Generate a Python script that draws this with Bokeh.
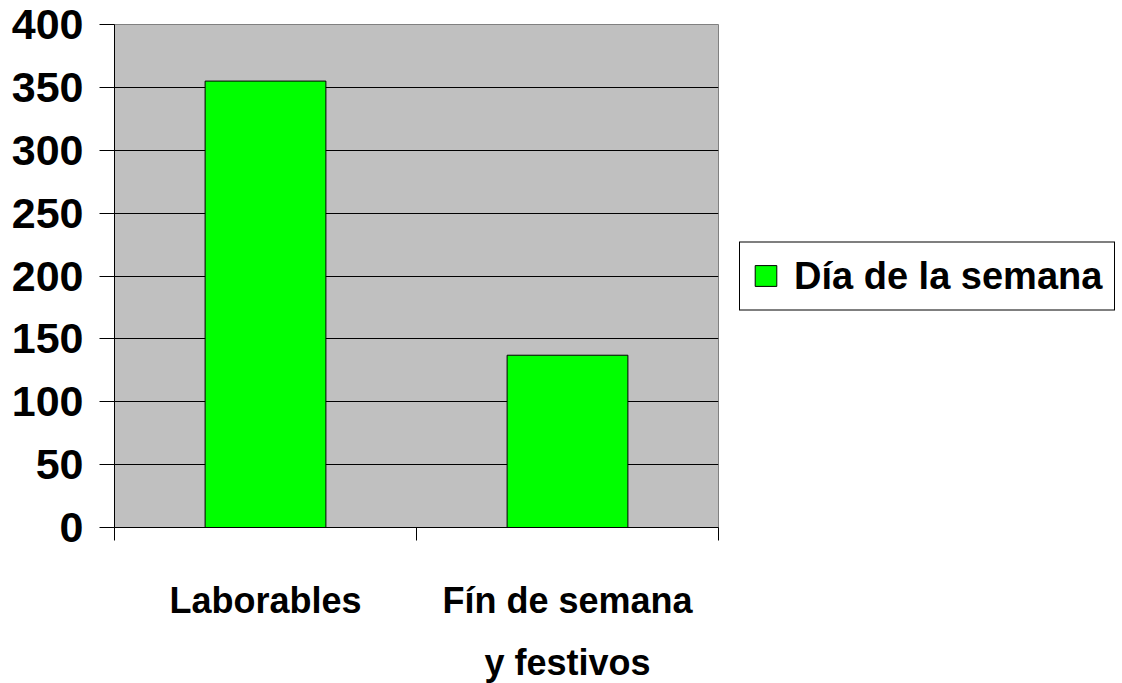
from bokeh.plotting import figure
from bokeh.models import Range1d, FixedTicker, Legend, LegendItem, ColumnDataSource
from bokeh.embed import file_html
from bokeh.resources import INLINE

categories = ["Laborables", "Fín de semana\ny festivos"]
values = [355, 137]
series_name = "Día de la semana"
y_ticks = [0, 50, 100, 150, 200, 250, 300, 350, 400]

FONT = "Liberation Sans"

p = figure(frame_width=604, frame_height=503, output_backend="svg", toolbar_location=None,
           x_range=Range1d(0, len(categories)), y_range=Range1d(0, 400),
           min_border_left=114, min_border_right=0, min_border_top=24, min_border_bottom=0)

p.background_fill_color = "#C0C0C0"
p.border_fill_color = "white"
p.outline_line_color = "#808080"
p.outline_line_width = 1

xs = [i + 0.5 for i in range(len(categories))]
src = ColumnDataSource(dict(x=xs, top=values))
r = p.vbar(x="x", top="top", bottom=0, width=0.4, source=src,
           fill_color="#00FF00", line_color="black", line_width=1)

# grid
p.xgrid.visible = False
p.ygrid.ticker = FixedTicker(ticks=y_ticks)
p.ygrid.grid_line_color = "black"
p.ygrid.grid_line_width = 1

# y axis
ya = p.yaxis[0]
ya.ticker = FixedTicker(ticks=y_ticks)
ya.axis_line_color = "black"
ya.major_tick_line_color = "black"
ya.major_tick_out = 15
ya.major_tick_in = 0
ya.minor_tick_line_color = None
ya.major_label_text_font = FONT
ya.major_label_text_font_style = "bold"
ya.major_label_text_font_size = "43px"
ya.major_label_text_color = "black"
ya.major_label_standoff = 16

# x axis
xa = p.xaxis[0]
xa.ticker = FixedTicker(ticks=xs, minor_ticks=list(range(len(categories) + 1)))
xa.major_label_overrides = {x: c for x, c in zip(xs, categories)}
xa.axis_line_color = "black"
xa.major_tick_out = 0
xa.major_tick_in = 0
xa.minor_tick_out = 13
xa.minor_tick_in = 0
xa.minor_tick_line_color = "black"
xa.major_label_text_font = FONT
xa.major_label_text_font_style = "bold"
xa.major_label_text_font_size = "36px"
xa.major_label_text_color = "black"
xa.major_label_text_line_height = 1.52
xa.major_label_standoff = 39

legend = Legend(items=[LegendItem(label=series_name, renderers=[r])],
                location="left", orientation="vertical")
legend.border_line_color = "black"
legend.border_line_width = 1
legend.border_line_alpha = 1
legend.background_fill_color = "white"
legend.background_fill_alpha = 1
legend.label_text_font = FONT
legend.label_text_font_style = "bold"
legend.label_text_font_size = "38px"
legend.label_text_color = "black"
legend.glyph_width = 27
legend.glyph_height = 26
legend.label_standoff = 15
legend.padding = 12
legend.margin = 21
legend.spacing = 0
p.add_layout(legend, "right")

open("out.html", "w").write(file_html(p, INLINE))
